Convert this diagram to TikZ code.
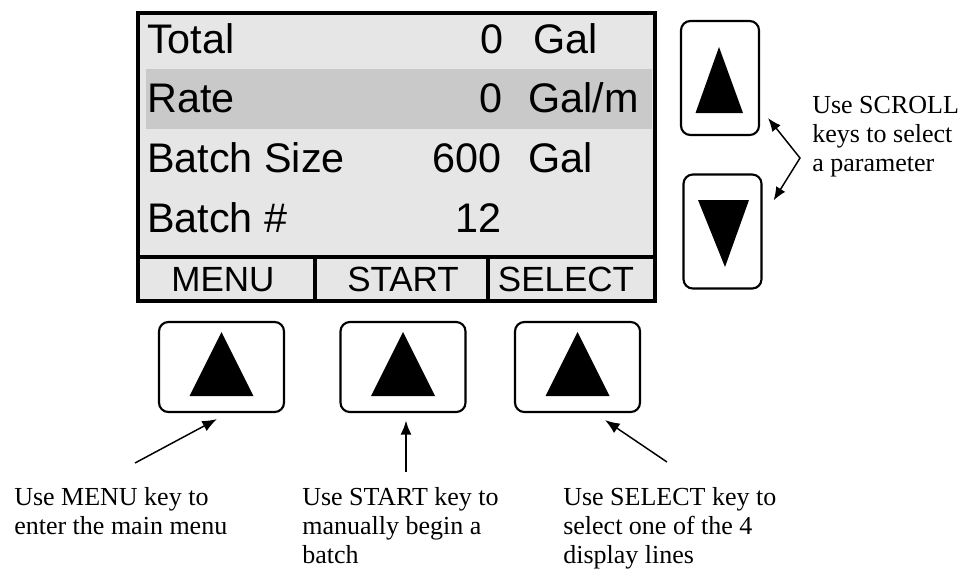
\documentclass[tikz,border=0pt]{standalone}
\usepackage{fontspec}
\setmainfont{Liberation Serif}
\newfontfamily\lcdfont{Liberation Sans}
\usepackage{tikz}
\usetikzlibrary{positioning,calc,arrows.meta}
\definecolor{lcdgray}{RGB}{230,230,230}
\definecolor{rowgray}{RGB}{201,201,201}

\begin{document}
\begin{tikzpicture}[x=0.75pt,y=-0.75pt,
  key/.style={draw,line width=1.6pt,rounded corners=7pt,inner sep=0pt},
  lcd/.style={font=\lcdfont\fontsize{31}{36}\selectfont,inner sep=0pt},
  soft/.style={font=\lcdfont\fontsize{26.25}{30}\selectfont,inner sep=0pt,anchor=base},
  note/.style={font=\fontsize{19.5}{21.75}\selectfont,align=left,inner sep=0pt,anchor=base west},
  pointer/.style={-{Latex[length=11pt,width=8.5pt]},line width=1.1pt}]
\useasboundingbox (0,0) rectangle (966,569);

% display
\draw[line width=3pt,fill=lcdgray] (138,13) rectangle (655,301);
\fill[rowgray] (146,69) rectangle (652,129);
\draw[line width=3pt] (138,256.5) -- (655,256.5);
\draw[line width=3pt] (315,256.5) -- (315,301);
\draw[line width=3pt] (488,256.5) -- (488,301);

\node[lcd,anchor=base west] (total) at (147,53) {Total};
\node[lcd,anchor=base east] (totalval) at (504,53) {0};
\node[lcd,anchor=base west] (totalunit) at (533,53) {Gal};
\node[lcd,anchor=base west] (rate) at (147,112) {Rate};
\node[lcd,anchor=base east] (rateval) at (503,112) {0};
\node[lcd,anchor=base west] (rateunit) at (528,112) {Gal/m};
\node[lcd,anchor=base west] (size) at (147,172) {Batch Size};
\node[lcd,anchor=base east] (sizeval) at (502,172) {600};
\node[lcd,anchor=base west] (sizeunit) at (528,172) {Gal};
\node[lcd,anchor=base west] (batch) at (147,232) {Batch \#};
\node[lcd,anchor=base east] (batchval) at (502,232) {12};

\node[soft] (menu) at (223,291) {MENU};
\node[soft] (start) at (403,291) {START};
\node[soft] (select) at (566,291) {SELECT};

% keys under the display
\node[key,minimum width=93.75pt,minimum height=67.5pt] (menukey) at (221.5,367) {};
\node[key,minimum width=93.75pt,minimum height=67.5pt] (startkey) at (403,367) {};
\node[key,minimum width=93.75pt,minimum height=67.5pt] (selectkey) at (577.5,367) {};
\fill ($(menukey)+(0,-35)$) -- ($(menukey)+(-32,29)$) -- ($(menukey)+(32,29)$) -- cycle;
\fill ($(startkey)+(0,-35)$) -- ($(startkey)+(-32,29)$) -- ($(startkey)+(32,29)$) -- cycle;
\fill ($(selectkey)+(0,-35)$) -- ($(selectkey)+(-32,29)$) -- ($(selectkey)+(32,29)$) -- cycle;

% scroll keys
\node[key,minimum width=58.5pt,minimum height=85.5pt] (upkey) at (720,78) {};
\node[key,minimum width=58.5pt,minimum height=85.5pt] (downkey) at (722.5,231.5) {};
\fill ($(upkey)+(-1,-31)$) -- ($(upkey)+(-24.5,35)$) -- ($(upkey)+(23,35)$) -- cycle;
\fill ($(downkey)+(2.5,35.5)$) -- ($(downkey)+(-24.5,-31.5)$) -- ($(downkey)+(26.5,-31.5)$) -- cycle;

% notes, placed by the baseline of their last line
\node[note] (menunote) at (14,534) {Use MENU key to\\enter the main menu};
\node[note] (startnote) at (302,563) {Use START key to\\manually begin a\\batch};
\node[note] (selectnote) at (563,563) {Use SELECT key to\\select one of the 4\\display lines};
\node[note] (scrollnote) at (812,171) {Use SCROLL\\keys to select\\a parameter};

\coordinate (menutail) at (135,463);
\coordinate (starttail) at (406,472);
\coordinate (selecttail) at (667,462);
\coordinate (scrollfork) at (800,158);
\draw[pointer] (menutail) -- ($(menukey.south)+(-4.5,6)$);
\draw[pointer,line width=2.2pt] (starttail) -- ($(startkey.south)+(3,7)$);
\draw[pointer] (selecttail) -- ($(selectkey.south)+(27.5,7)$);
\draw[pointer,{Latex[length=10pt,width=8pt]}-{Latex[length=10pt,width=8pt]}]
  ($(upkey.south east)+(8,-18)$) -- (scrollfork) -- ($(downkey.north east)+(11,27)$);
\end{tikzpicture}
\end{document}
